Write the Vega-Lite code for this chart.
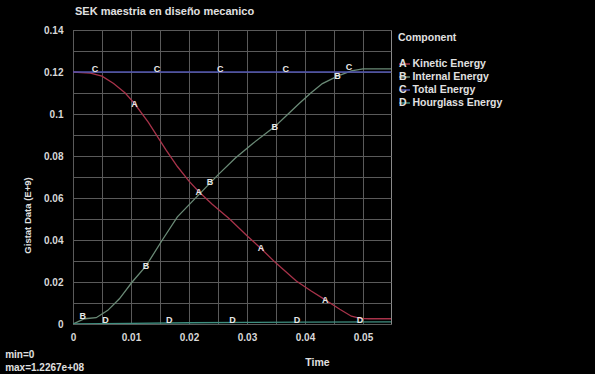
{
  "$schema": "https://vega.github.io/schema/vega-lite/v6.json",
  "autosize": {"type": "none"},
  "width": 318,
  "height": 294,
  "padding": {"left": 73, "top": 30, "right": 204, "bottom": 50},
  "background": "#000000",
  "config": {
    "view": {"stroke": "#8a8a8a", "strokeWidth": 1},
    "font": "Liberation Sans",
    "text": {"font": "Liberation Sans"}
  },
  "title": {
    "text": "SEK maestria en diseño mecanico",
    "anchor": "start",
    "frame": "group",
    "color": "#e0e0e0",
    "font": "Liberation Sans",
    "fontSize": 11,
    "fontWeight": "bold",
    "offset": 8,
    "dx": 2
  },
  "datasets": {
    "curves": [
      {"c": "Kinetic Energy", "t": 0, "v": 0.12},
      {"c": "Kinetic Energy", "t": 0.003, "v": 0.1195},
      {"c": "Kinetic Energy", "t": 0.005, "v": 0.118},
      {"c": "Kinetic Energy", "t": 0.007, "v": 0.1145},
      {"c": "Kinetic Energy", "t": 0.009, "v": 0.11},
      {"c": "Kinetic Energy", "t": 0.0106, "v": 0.105},
      {"c": "Kinetic Energy", "t": 0.013, "v": 0.096},
      {"c": "Kinetic Energy", "t": 0.016, "v": 0.083},
      {"c": "Kinetic Energy", "t": 0.018, "v": 0.075},
      {"c": "Kinetic Energy", "t": 0.02, "v": 0.068},
      {"c": "Kinetic Energy", "t": 0.0217, "v": 0.063},
      {"c": "Kinetic Energy", "t": 0.024, "v": 0.057},
      {"c": "Kinetic Energy", "t": 0.027, "v": 0.05},
      {"c": "Kinetic Energy", "t": 0.03, "v": 0.042},
      {"c": "Kinetic Energy", "t": 0.0324, "v": 0.036},
      {"c": "Kinetic Energy", "t": 0.035, "v": 0.029},
      {"c": "Kinetic Energy", "t": 0.0385, "v": 0.0205},
      {"c": "Kinetic Energy", "t": 0.041, "v": 0.0158},
      {"c": "Kinetic Energy", "t": 0.0435, "v": 0.0115},
      {"c": "Kinetic Energy", "t": 0.046, "v": 0.007},
      {"c": "Kinetic Energy", "t": 0.048, "v": 0.0037},
      {"c": "Kinetic Energy", "t": 0.0495, "v": 0.0027},
      {"c": "Kinetic Energy", "t": 0.051, "v": 0.0025},
      {"c": "Kinetic Energy", "t": 0.0549, "v": 0.0025},
      {"c": "Internal Energy", "t": 0, "v": 0},
      {"c": "Internal Energy", "t": 0.002, "v": 0.0025},
      {"c": "Internal Energy", "t": 0.004, "v": 0.003},
      {"c": "Internal Energy", "t": 0.006, "v": 0.0065},
      {"c": "Internal Energy", "t": 0.008, "v": 0.012},
      {"c": "Internal Energy", "t": 0.0102, "v": 0.02},
      {"c": "Internal Energy", "t": 0.0126, "v": 0.0277},
      {"c": "Internal Energy", "t": 0.0154, "v": 0.04},
      {"c": "Internal Energy", "t": 0.018, "v": 0.051},
      {"c": "Internal Energy", "t": 0.0217, "v": 0.0616},
      {"c": "Internal Energy", "t": 0.025, "v": 0.071},
      {"c": "Internal Energy", "t": 0.028, "v": 0.079},
      {"c": "Internal Energy", "t": 0.031, "v": 0.086},
      {"c": "Internal Energy", "t": 0.0348, "v": 0.094},
      {"c": "Internal Energy", "t": 0.037, "v": 0.0998},
      {"c": "Internal Energy", "t": 0.039, "v": 0.105},
      {"c": "Internal Energy", "t": 0.041, "v": 0.11},
      {"c": "Internal Energy", "t": 0.043, "v": 0.1145},
      {"c": "Internal Energy", "t": 0.0456, "v": 0.118},
      {"c": "Internal Energy", "t": 0.048, "v": 0.1205},
      {"c": "Internal Energy", "t": 0.05, "v": 0.1215},
      {"c": "Internal Energy", "t": 0.0549, "v": 0.1215},
      {"c": "Total Energy", "t": 0, "v": 0.12},
      {"c": "Total Energy", "t": 0.0549, "v": 0.12},
      {"c": "Hourglass Energy", "t": 0, "v": 0},
      {"c": "Hourglass Energy", "t": 0.01, "v": 0.0003},
      {"c": "Hourglass Energy", "t": 0.02, "v": 0.0006},
      {"c": "Hourglass Energy", "t": 0.03, "v": 0.0008},
      {"c": "Hourglass Energy", "t": 0.04, "v": 0.0009},
      {"c": "Hourglass Energy", "t": 0.0549, "v": 0.001}
    ],
    "letters": [
      {"c": "Kinetic Energy", "l": "A", "t": 0.0106, "v": 0.105},
      {"c": "Kinetic Energy", "l": "A", "t": 0.0217, "v": 0.063},
      {"c": "Kinetic Energy", "l": "A", "t": 0.0324, "v": 0.036},
      {"c": "Kinetic Energy", "l": "A", "t": 0.0435, "v": 0.0115},
      {"c": "Internal Energy", "l": "B", "t": 0.0017, "v": 0.004},
      {"c": "Internal Energy", "l": "B", "t": 0.0126, "v": 0.0277},
      {"c": "Internal Energy", "l": "B", "t": 0.0236, "v": 0.0675},
      {"c": "Internal Energy", "l": "B", "t": 0.0348, "v": 0.094},
      {"c": "Internal Energy", "l": "B", "t": 0.0456, "v": 0.118},
      {"c": "Total Energy", "l": "C", "t": 0.0038, "v": 0.1215},
      {"c": "Total Energy", "l": "C", "t": 0.0145, "v": 0.1215},
      {"c": "Total Energy", "l": "C", "t": 0.0254, "v": 0.1215},
      {"c": "Total Energy", "l": "C", "t": 0.0367, "v": 0.1215},
      {"c": "Total Energy", "l": "C", "t": 0.0476, "v": 0.1225},
      {"c": "Hourglass Energy", "l": "D", "t": 0.0056, "v": 0.0019},
      {"c": "Hourglass Energy", "l": "D", "t": 0.0166, "v": 0.0019},
      {"c": "Hourglass Energy", "l": "D", "t": 0.0275, "v": 0.0019},
      {"c": "Hourglass Energy", "l": "D", "t": 0.0386, "v": 0.0019},
      {"c": "Hourglass Energy", "l": "D", "t": 0.0495, "v": 0.0019}
    ],
    "notes": [
      {"note": "min=0", "t": -0.0117, "v": -0.0148},
      {"note": "max=1.2267e+08", "t": -0.0117, "v": -0.021}
    ]
  },
  "encoding": {
    "x": {
      "field": "t", "type": "quantitative",
      "scale": {"domain": [0, 0.054828], "nice": false, "zero": false},
      "axis": {
        "values": [0, 0.005, 0.01, 0.015, 0.02, 0.025, 0.03, 0.035, 0.04, 0.045, 0.05],
        "labelExpr": "round(datum.value*1000) % 10 == 0 ? format(datum.value, '~g') : ''",
        "title": "Time",
        "titleX": 244, "titleY": 33, "titleAlign": "center",
        "titleColor": "#e0e0e0", "titleFontSize": 10.5, "titleFontWeight": "bold", "titleFont": "Liberation Sans",
        "labelColor": "#d8d8d8", "labelFontSize": 10, "labelFontWeight": "bold", "labelFont": "Liberation Sans",
        "labelPadding": 8, "labelFlush": false,
        "ticks": false, "domain": false,
        "grid": true,
        "gridColor": "#5a5a5a",
        "gridOpacity": 1,
        "gridWidth": 1
      }
    },
    "y": {
      "field": "v", "type": "quantitative",
      "scale": {"domain": [0, 0.14], "nice": false},
      "axis": {
        "values": [0, 0.01, 0.02, 0.03, 0.04, 0.05, 0.06, 0.07, 0.08, 0.09, 0.1, 0.11, 0.12, 0.13, 0.14],
        "labelExpr": "round(datum.value*100) % 2 == 0 ? format(datum.value, '~g') : ''",
        "title": "Gistat Data (E+9)",
        "titleX": -41, "titleY": 185, "titleAlign": "center",
        "titleColor": "#e0e0e0", "titleFontSize": 9.5, "titleFontWeight": "bold", "titleFont": "Liberation Sans",
        "labelColor": "#d8d8d8", "labelFontSize": 10, "labelFontWeight": "bold", "labelFont": "Liberation Sans",
        "labelPadding": 10, "labelFlush": false,
        "ticks": false, "domain": false,
        "grid": true,
        "gridColor": "#5a5a5a",
        "gridOpacity": 1,
        "gridWidth": 1
      }
    }
  },
  "layer": [
    {
      "data": {"name": "curves"},
      "mark": {"type": "line", "strokeWidth": 1.3, "clip": true},
      "encoding": {
        "color": {
          "field": "c", "type": "nominal",
          "scale": {
            "domain": ["Kinetic Energy", "Internal Energy", "Total Energy", "Hourglass Energy"],
            "range": ["#a8334a", "#6a8a76", "#5055b0", "#3f8f80"]
          },
          "legend": {
            "orient": "none", "legendX": 325, "legendY": 3,
            "title": "Component",
            "titleColor": "#e0e0e0", "titleFontSize": 10.5, "titleFontWeight": "bold", "titleFont": "Liberation Sans",
            "titlePadding": 14,
            "symbolType": "stroke", "symbolSize": 120, "symbolStrokeWidth": 1.5,
            "labelExpr": "(datum.label == 'Kinetic Energy' ? 'A' : datum.label == 'Internal Energy' ? 'B' : datum.label == 'Total Energy' ? 'C' : 'D') + '\u00a0\u00a0' + datum.label",
            "labelColor": "#e0e0e0", "labelFontSize": 10.5, "labelFontWeight": "bold", "labelFont": "Liberation Sans",
            "labelOffset": -12,
            "rowPadding": 1
          }
        }
      }
    },
    {
      "data": {"name": "letters"},
      "mark": {"type": "text", "color": "#e8e8e8", "fontSize": 9, "fontWeight": "bold", "font": "Liberation Sans"},
      "encoding": {
        "text": {"field": "l"}
      }
    },
    {
      "data": {"name": "notes"},
      "mark": {"type": "text", "color": "#e0e0e0", "fontSize": 10, "fontWeight": "bold", "font": "Liberation Sans", "align": "left", "clip": false},
      "encoding": {
        "text": {"field": "note"}
      }
    }
  ]
}
